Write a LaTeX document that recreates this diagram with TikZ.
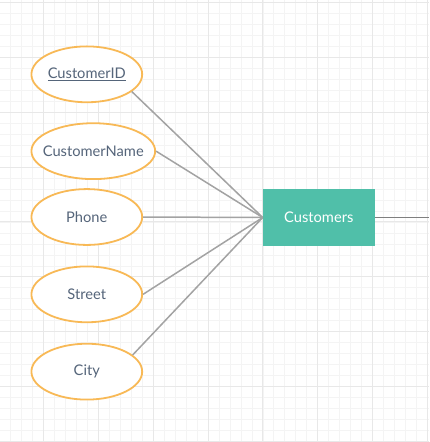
\documentclass[tikz,border=0pt]{standalone}
\usepackage{fontspec}
\setmainfont{Lato}
\usetikzlibrary{shapes.geometric,positioning}
\definecolor{gridminor}{HTML}{F4F4F4}
\definecolor{gridmajor}{HTML}{E8E8E8}
\definecolor{attrorange}{HTML}{F8B956}
\definecolor{attrtext}{HTML}{55657A}
\definecolor{entteal}{HTML}{50BFA9}
\definecolor{linkgray}{HTML}{A3A3A3}
\definecolor{linkdark}{HTML}{7F7F7F}

\begin{document}
\begin{tikzpicture}[
    x=1bp, y=-1bp,
    % Estilos
    attr/.style={ellipse, draw=attrorange, line width=1.8bp, fill=white, inner sep=0pt,
        minimum width=111bp, minimum height=56bp, text=attrtext, font=\fontsize{14.7bp}{17bp}\selectfont},
    entity/.style={rectangle, fill=entteal, inner sep=0pt, minimum width=112bp, minimum height=57bp,
        text=white, font=\fontsize{14.7bp}{17bp}\selectfont},
    link/.style={draw=linkgray, line width=1.5bp},
    linkout/.style={draw=linkdark, line width=1.5bp}
]

% --- FONDO (rejilla) ---
\fill[white] (0,0) rectangle (429,442);
\foreach \gx in {10,21,...,429} \draw[gridminor, line width=0.8bp] (\gx,0) -- (\gx,442);
\foreach \gy in {13,24,...,442} \draw[gridminor, line width=0.8bp] (0,\gy) -- (429,\gy);
\foreach \gx in {43,98,...,429} \draw[gridmajor, line width=1bp] (\gx,0) -- (\gx,442);
\foreach \gy in {2,57,...,442} \draw[gridmajor, line width=1bp] (0,\gy) -- (429,\gy);
\useasboundingbox (0,0) rectangle (429,442);

% --- NODOS ---
\node[entity] (cust) at (319,217.5) {Customers};
\coordinate (custout) at (429,217.5);

\node[attr] (cid)   at (86.5,74)    {\makebox[0pt]{\underline{CustomerID}}};
\node[attr, minimum width=124bp] (cname) at (93,151) {\makebox[0pt]{CustomerName}};
\node[attr] (phone) at (86.5,217)   {Phone};
\node[attr] (street) at (86.5,294.5) {Street};
\node[attr] (city)  at (86.5,372)   {City};

% --- CONEXIONES ---
\draw[link] (cid.-21)     -- (cust.west);
\draw[link] (cname.east)  -- (cust.west);
\draw[link] (phone.east)  -- (cust.west);
\draw[link] (street.east) -- (cust.west);
\draw[link] (city.20)     -- (cust.west);
\draw[linkout] (cust.east) -- (custout);

\end{tikzpicture}
\end{document}
